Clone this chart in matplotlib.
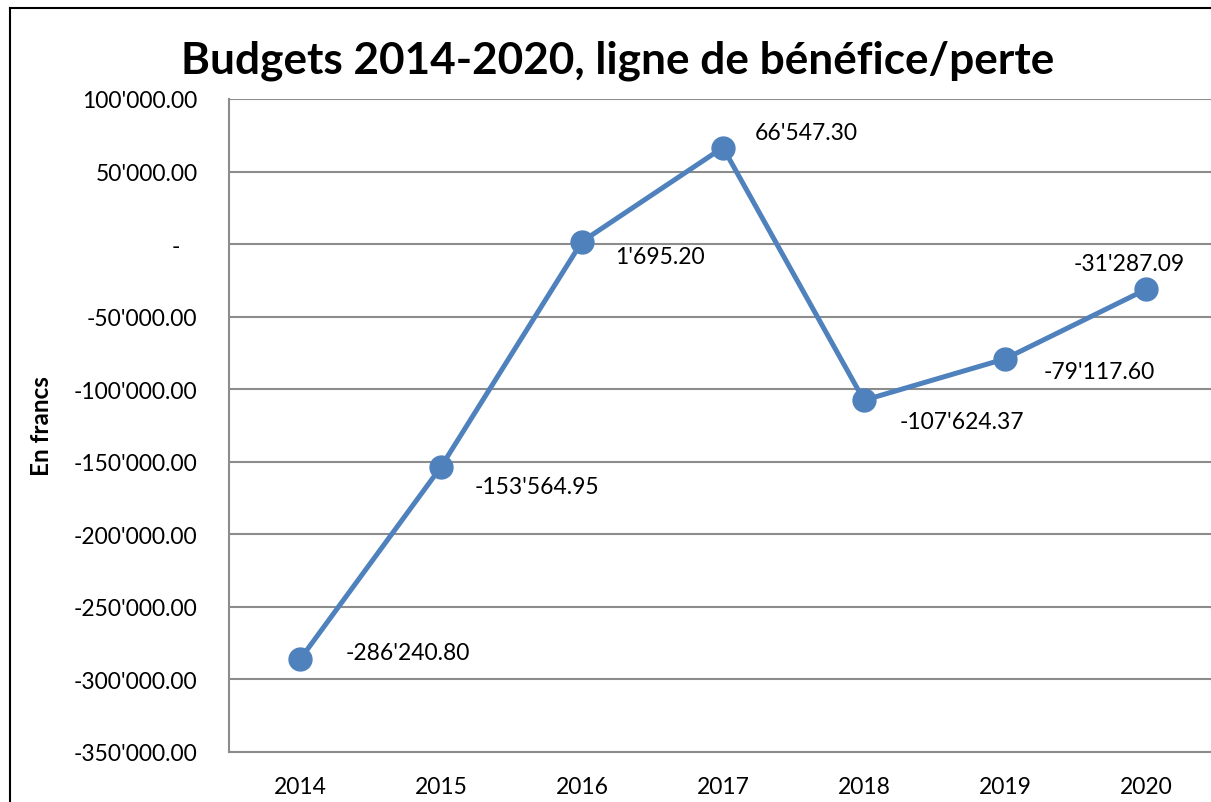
"""Budget profit/loss line chart, 2014-2020."""

import matplotlib
matplotlib.use("Agg")
import matplotlib.pyplot as plt  # noqa: E402
from matplotlib.ticker import FuncFormatter, MultipleLocator  # noqa: E402

years = ["2014", "2015", "2016", "2017", "2018", "2019", "2020"]
results = [-286240.80, -153564.95, 1695.20, 66547.30, -107624.37, -79117.60, -31287.09]

# label offsets in points (dx, dy) relative to each marker
label_offsets = [(33, 5), (24, -14), (24, -11), (23, 11), (26, -15), (28, -9), (-12, 19)]
label_align = ["left", "left", "left", "left", "left", "left", "center"]

LINE_COLOR = "#4F81BD"
GRID_COLOR = "#8C8C8C"
FS = 16.5

plt.rcParams["font.family"] = ["Lato", "DejaVu Sans"]


def chf(v, pos=None):
    # accounting style: zero shows as a dash
    if abs(v) < 1e-6:
        return "-   "
    return f"{v:,.2f}".replace(",", "'")


fig = plt.figure(figsize=(12.11, 8.03), dpi=100)
ax = fig.add_axes([0.1895, 0.0623, 0.8150, 0.8132])

x = list(range(len(years)))
ax.plot(x, results, color=LINE_COLOR, linewidth=3.6, marker="o", markersize=16.5,
        solid_capstyle="round", zorder=3)

for i, v in enumerate(results):
    dx, dy = label_offsets[i]
    ax.annotate(chf(v), (i, v), xytext=(dx, dy), textcoords="offset points",
                ha=label_align[i], va="center", fontsize=FS, color="black")

ax.set_xlim(-0.5, len(years) - 0.5)
ax.set_ylim(-350000, 100000)
ax.yaxis.set_major_locator(MultipleLocator(50000))
ax.yaxis.set_major_formatter(FuncFormatter(chf))
ax.set_xticks(x)
ax.set_xticklabels(years)
ax.tick_params(axis="both", length=0, labelsize=FS)
ax.tick_params(axis="y", pad=23)
ax.tick_params(axis="x", pad=17)

ax.grid(axis="y", color=GRID_COLOR, linewidth=1.5)
ax.set_axisbelow(True)
for side in ["top", "right"]:
    ax.spines[side].set_visible(False)
for side in ["left", "bottom"]:
    ax.spines[side].set_color(GRID_COLOR)
    ax.spines[side].set_linewidth(1.5)

ax.set_ylabel("En francs", fontsize=17.5, fontweight="bold")
ax.yaxis.set_label_coords(-0.179, 0.5)

fig.text(0.510, 0.924, "Budgets 2014-2020, ligne de bénéfice/perte",
         ha="center", va="center", fontsize=31.8, fontweight="bold")

# chart frame (only top and left edges visible in the crop)
fig.add_artist(plt.Line2D([10 / 1211, 10 / 1211], [0, 1 - 9 / 803], color="black", linewidth=1.5))
fig.add_artist(plt.Line2D([10 / 1211, 1], [1 - 9 / 803, 1 - 9 / 803], color="black", linewidth=1.5))

fig.savefig("out.png", dpi=100)
plt.close(fig)
